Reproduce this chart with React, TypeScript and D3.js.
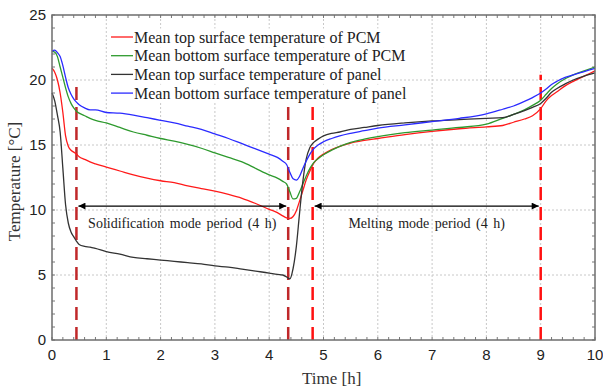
import { useEffect, useRef } from 'react';
import * as d3 from 'd3';

const W = 603;
const H = 388;

// time [h]
const hours = [
  0, 0.05, 0.1, 0.15, 0.2, 0.25, 0.3, 0.35, 0.4, 0.45, 0.5, 0.6, 0.7, 0.8, 1.0,
  1.25, 1.5, 1.75, 2.0, 2.25, 2.5, 2.75, 3.0, 3.25, 3.5, 3.75, 4.0, 4.15, 4.25,
  4.32, 4.38, 4.44, 4.5, 4.56, 4.62, 4.68, 4.75, 4.82, 4.9, 5.0, 5.15, 5.3, 5.5,
  5.75, 6.0, 6.5, 7.0, 7.5, 8.0, 8.3, 8.5, 8.7, 8.85, 9.0, 9.1, 9.2, 9.3, 9.45,
  9.6, 9.8, 10.0,
];

const topPcm = [
  20.9, 20.6, 20.0, 19.0, 17.5, 15.7, 14.9, 14.6, 14.45, 14.3, 14.1, 13.9, 13.7,
  13.55, 13.3, 13.0, 12.7, 12.45, 12.25, 12.1, 11.85, 11.65, 11.45, 11.2, 10.9,
  10.5, 10.05, 9.8, 9.55, 9.4, 9.35, 9.5, 9.95, 10.7, 11.5, 12.3, 13.0, 13.6,
  14.0, 14.3, 14.65, 14.9, 15.15, 15.35, 15.5, 15.8, 16.05, 16.25, 16.4, 16.5,
  16.75, 17.0, 17.25, 17.8, 18.4, 18.8, 19.1, 19.55, 19.9, 20.3, 20.7,
];

const bottomPcm = [
  22.2, 22.15, 21.8, 21.0, 20.2, 19.4, 18.7, 18.2, 17.85, 17.6, 17.45, 17.25,
  17.05, 16.9, 16.7, 16.35, 16.0, 15.75, 15.5, 15.3, 15.05, 14.75, 14.4, 14.05,
  13.7, 13.2, 12.7, 12.45, 12.2, 12.0, 11.4, 10.85, 10.9, 11.4, 12.0, 12.6, 13.2,
  13.65, 13.95, 14.25, 14.6, 14.9, 15.2, 15.45, 15.65, 15.95, 16.15, 16.35, 16.6,
  17.05, 17.35, 17.7, 18.05, 18.45, 18.9, 19.35, 19.7, 20.1, 20.4, 20.7, 21.0,
];

const topPanel = [
  19.0, 18.4, 17.3, 16.0, 13.2, 10.4, 9.0, 8.3, 7.95, 7.6, 7.35, 7.2, 7.15, 7.05,
  6.8, 6.6, 6.35, 6.25, 6.15, 6.05, 5.95, 5.85, 5.7, 5.6, 5.45, 5.3, 5.15, 5.05,
  5.0, 4.85, 4.7, 5.5, 7.2, 9.8, 12.2, 13.9, 14.8, 15.2, 15.45, 15.7, 15.9, 16.0,
  16.2, 16.35, 16.5, 16.7, 16.85, 16.95, 17.05, 17.1, 17.35, 17.65, 17.9, 18.2,
  18.6, 19.05, 19.35, 19.7, 20.0, 20.3, 20.55,
];

const bottomPanel = [
  22.2, 22.3, 22.1, 21.8, 21.1, 20.2, 19.4, 18.9, 18.55, 18.3, 18.1, 17.85, 17.7,
  17.7, 17.5, 17.45, 17.3, 17.1, 16.9, 16.7, 16.45, 16.2, 15.85, 15.5, 15.1, 14.7,
  14.3, 14.05, 13.75, 13.5, 12.9, 12.4, 12.3, 12.6, 13.2, 13.75, 14.3, 14.7, 15.0,
  15.25, 15.5, 15.7, 15.9, 16.1, 16.3, 16.55, 16.8, 17.05, 17.4, 17.75, 18.0,
  18.35, 18.65, 19.0, 19.3, 19.65, 19.9, 20.2, 20.4, 20.65, 20.9,
];

const seriesNames = [
  'Mean top surface temperature of PCM',
  'Mean bottom surface temperature of PCM',
  'Mean top surface temperature of panel',
  'Mean bottom surface temperature of panel',
];
const seriesValues = [topPcm, bottomPcm, topPanel, bottomPanel];
const seriesColors = ['#ff1a1a', '#2e9a2e', '#333333', '#2b2bff'];

// vertical dashed markers: time, top value, colour
const markerTimes = [0.45, 4.35, 4.8, 9.0];
const markerTops = [20, 20, 20, 20.4];
const markerColors = ['#c0282a', '#c0282a', '#ff1010', '#ff1010'];

const xTicks = [0, 1, 2, 3, 4, 5, 6, 7, 8, 9, 10];
const yTicks = [0, 5, 10, 15, 20, 25];

const periods = [
  { from: 0.45, to: 4.35, label: 'Solidification mode period (4 h)' },
  { from: 4.8, to: 9.0, label: 'Melting mode period (4 h)' },
];
const periodLevel = 10.3;

export default function App() {
  const svgRef = useRef<SVGSVGElement>(null);

  useEffect(() => {
    if (!svgRef.current) return;
    const svg = d3.select(svgRef.current);
    svg.selectAll('*').remove();

    const serif = '"Liberation Serif", "Times New Roman", serif';
    const sans = '"Liberation Sans", Arial, sans-serif';

    const margin = { top: 15, right: 8, bottom: 48, left: 52 };
    const innerWidth = W - margin.left - margin.right;
    const innerHeight = H - margin.top - margin.bottom;

    const x = d3.scaleLinear().domain([0, 10]).range([0, innerWidth]);
    const y = d3.scaleLinear().domain([0, 25]).range([innerHeight, 0]);

    const defs = svg.append('defs');
    ['arrowEnd', 'arrowStart'].forEach((id) => {
      defs
        .append('marker')
        .attr('id', id)
        .attr('viewBox', '0 0 10 10')
        .attr('refX', 10)
        .attr('refY', 5)
        .attr('markerWidth', 9)
        .attr('markerHeight', 7)
        .attr('markerUnits', 'userSpaceOnUse')
        .attr('orient', id === 'arrowEnd' ? 'auto' : 'auto-start-reverse')
        .append('path')
        .attr('d', 'M0,0 L10,5 L0,10 z')
        .attr('fill', '#000');
    });

    const g = svg
      .append('g')
      .attr('transform', `translate(${margin.left},${margin.top})`);

    // grid
    g.append('g')
      .selectAll('line')
      .data(xTicks.slice(1, -1))
      .join('line')
      .attr('x1', (d) => x(d))
      .attr('x2', (d) => x(d))
      .attr('y1', 0)
      .attr('y2', innerHeight)
      .attr('stroke', '#c8c8c8')
      .attr('stroke-dasharray', '2,2');
    g.append('g')
      .selectAll('line')
      .data(yTicks.slice(1, -1))
      .join('line')
      .attr('x1', 0)
      .attr('x2', innerWidth)
      .attr('y1', (d) => y(d))
      .attr('y2', (d) => y(d))
      .attr('stroke', '#c8c8c8')
      .attr('stroke-dasharray', '2,2');

    // inward ticks on all sides
    const xMinor = d3.range(0, 10.001, 0.2);
    const yMinor = d3.range(0, 25.001, 1);
    const tickG = g.append('g').attr('stroke', '#777').attr('stroke-width', 1);
    const len = 3;
    xMinor.forEach((t) => {
      tickG.append('line').attr('x1', x(t)).attr('x2', x(t)).attr('y1', innerHeight).attr('y2', innerHeight - len);
      tickG.append('line').attr('x1', x(t)).attr('x2', x(t)).attr('y1', 0).attr('y2', len);
    });
    yMinor.forEach((v) => {
      tickG.append('line').attr('x1', 0).attr('x2', len).attr('y1', y(v)).attr('y2', y(v));
      tickG.append('line').attr('x1', innerWidth).attr('x2', innerWidth - len).attr('y1', y(v)).attr('y2', y(v));
    });

    // dashed markers
    g.append('g')
      .selectAll('line')
      .data(markerTimes)
      .join('line')
      .attr('x1', (d) => x(d))
      .attr('x2', (d) => x(d))
      .attr('y1', innerHeight)
      .attr('y2', (_, i) => y(markerTops[i]))
      .attr('stroke', (_, i) => markerColors[i])
      .attr('stroke-width', 2.5)
      .attr('stroke-dasharray', '13,7');

    // series
    const line = d3
      .line<number>()
      .x((_, i) => x(hours[i]))
      .y((d) => y(d))
      .curve(d3.curveMonotoneX);

    seriesValues.forEach((vals, i) => {
      g.append('path')
        .datum(vals)
        .attr('fill', 'none')
        .attr('stroke', seriesColors[i])
        .attr('stroke-width', 1.3)
        .attr('d', line as never);
    });

    // period arrows
    periods.forEach((p) => {
      g.append('line')
        .attr('x1', x(p.from) + 2)
        .attr('x2', x(p.to) - 2)
        .attr('y1', y(periodLevel))
        .attr('y2', y(periodLevel))
        .attr('stroke', '#000')
        .attr('stroke-width', 1.3)
        .attr('marker-start', 'url(#arrowStart)')
        .attr('marker-end', 'url(#arrowEnd)');
      g.append('text')
        .attr('x', (x(p.from) + x(p.to)) / 2)
        .attr('y', y(periodLevel) + 22)
        .attr('text-anchor', 'middle')
        .attr('font-family', serif)
        .attr('font-size', 14)
        .attr('word-spacing', 2)
        .attr('fill', '#222')
        .text(p.label);
    });

    // legend (each entry on its own white box)
    const legend = g.append('g').attr('transform', `translate(${59},${22})`);
    seriesNames.forEach((name, i) => {
      const row = legend.append('g').attr('transform', `translate(0,${i * 18.7})`);
      const txt = row
        .append('text')
        .attr('x', 23)
        .attr('y', 5.5)
        .attr('font-family', serif)
        .attr('font-size', 16)
        .attr('fill', '#222')
        .text(name);
      const bb = (txt.node() as SVGTextElement).getBBox();
      row
        .insert('rect', 'text')
        .attr('x', 0)
        .attr('y', bb.y)
        .attr('width', bb.x + bb.width + 1)
        .attr('height', bb.height)
        .attr('fill', '#fff');
      row
        .append('line')
        .attr('x1', 0)
        .attr('x2', 22)
        .attr('y1', 0)
        .attr('y2', 0)
        .attr('stroke', seriesColors[i])
        .attr('stroke-width', 1.3);
    });

    // frame
    g.append('rect')
      .attr('width', innerWidth)
      .attr('height', innerHeight)
      .attr('fill', 'none')
      .attr('stroke', '#6e6e6e')
      .attr('stroke-width', 1.5);

    // tick labels
    g.append('g')
      .selectAll('text')
      .data(xTicks)
      .join('text')
      .attr('x', (d) => x(d))
      .attr('y', innerHeight + 20)
      .attr('text-anchor', 'middle')
      .attr('font-family', sans)
      .attr('font-size', 15)
      .attr('fill', '#222')
      .text((d) => d);
    g.append('g')
      .selectAll('text')
      .data(yTicks)
      .join('text')
      .attr('x', -6)
      .attr('y', (d) => y(d) + 5)
      .attr('text-anchor', 'end')
      .attr('font-family', sans)
      .attr('font-size', 15)
      .attr('fill', '#222')
      .text((d) => d);

    // axis titles
    svg
      .append('text')
      .attr('transform', `translate(20,${margin.top + innerHeight / 2 + 4}) rotate(-90)`)
      .attr('text-anchor', 'middle')
      .attr('font-family', serif)
      .attr('font-size', 17)
      .attr('fill', '#333')
      .text('Temperature [°C]');
    svg
      .append('text')
      .attr('x', margin.left + x(5.15))
      .attr('y', H - 4)
      .attr('text-anchor', 'middle')
      .attr('font-family', serif)
      .attr('font-size', 17)
      .attr('fill', '#333')
      .text('Time [h]');
  }, []);

  return (
    <svg
      ref={svgRef}
      width={W}
      height={H}
      style={{ position: 'absolute', left: 0, top: 0, background: '#fff' }}
    />
  );
}
